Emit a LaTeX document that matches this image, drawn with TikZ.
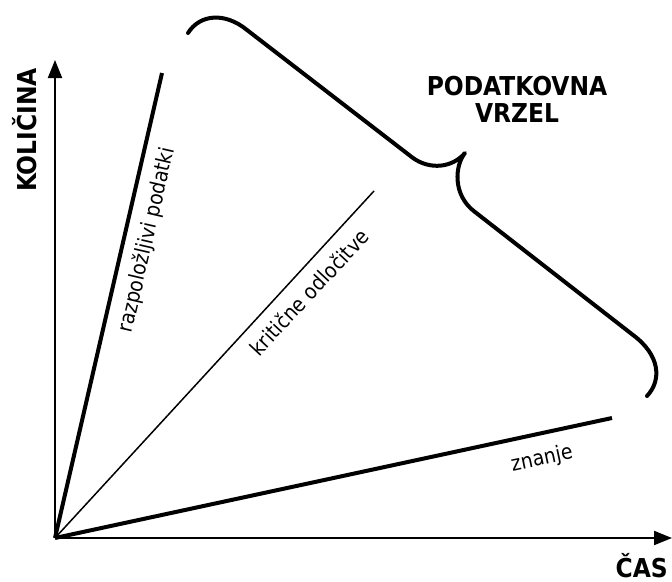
\documentclass[tikz,border=0pt]{standalone}
\usepackage{fontspec}
\setmainfont{DejaVu Sans}
\newfontfamily\condf{DejaVu Sans Condensed}
\usetikzlibrary{arrows.meta}
\begin{document}
\begin{tikzpicture}[x=1pt,y=-1pt,
  axis/.style={line width=2pt,-{Triangle[length=18pt,width=14pt]}},
  thickline/.style={line width=4pt},
  thinline/.style={line width=1.5pt},
  bracepath/.style={line width=4pt,line cap=round,line join=round},
  lbl/.style={font=\condf\fontsize{21}{24}\selectfont,inner sep=0pt},
  bold/.style={font=\condf\bfseries\fontsize{26}{27}\selectfont,inner sep=0pt,align=center}]
\useasboundingbox (0,0) rectangle (672,581);
\coordinate (O) at (55,538);
\coordinate (ytip) at (55,60);
\coordinate (xtip) at (672,538);
\coordinate (rp) at (162,73);
\coordinate (ko) at (374,191);
\coordinate (zn) at (612,418);
\draw[axis] (O) -- (ytip);
\draw[axis] (O) -- (xtip);
\draw[thickline] (O) -- (rp);
\draw[thinline] (O) -- (ko);
\draw[thickline] (O) -- (zn);
\node[lbl,rotate=77] (lrp) at (147,240) {razpoložljivi podatki};
\node[lbl,rotate=47] (lko) at (309,292) {kritične odločitve};
\node[lbl,rotate=12] (lzn) at (542,459) {znanje};
\node[bold,rotate=90] (yl) at (25,130) {KOLIČINA};
\node[bold,anchor=south east] (xl) at (668,578) {ČAS};
\node[bold] (gap) at (517,99) {PODATKOVNA\\VRZEL};
\draw[bracepath] (188,33) .. controls (200,14) and (225,12) .. (247,30)
  -- (413,158) .. controls (430,170) and (452,168) .. (465,153)
  .. controls (455,165) and (452,195) .. (475,212)
  -- (633,335) .. controls (660,355) and (662,380) .. (647,396);
\end{tikzpicture}
\end{document}
